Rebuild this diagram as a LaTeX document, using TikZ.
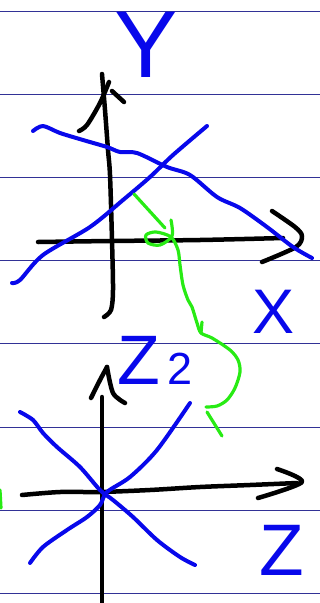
\documentclass[tikz,border=0pt]{standalone}
\usepackage{fontspec}
\setsansfont{Liberation Sans}
\usetikzlibrary{positioning}
\definecolor{penblue}{RGB}{8,8,235}
\definecolor{pengreen}{RGB}{40,235,20}
\definecolor{ruleblue}{RGB}{50,50,150}
\tikzset{
  pen/.style={line width=4.5pt, line cap=round, line join=round},
  bluepen/.style={pen, line width=4pt, color=penblue},
  greenpen/.style={pen, line width=3.2pt, color=pengreen},
  ruling/.style={line width=1pt, color=ruleblue},
  hand/.style={inner sep=0pt, text=penblue, font=\sffamily}
}
\begin{document}
\begin{tikzpicture}[x=1pt,y=-1pt]
\useasboundingbox (0,0) rectangle (320,603);

\foreach \y in {11,94,177.5,260.5,343.5,427,510,593.5}
  \draw[ruling] (0,\y) -- (320,\y);

\draw[pen] plot[smooth] coordinates {(102,74) (105,110) (108,150) (110,175) (112,240) (113,290) (111,310) (104,317)};
\draw[pen] plot[smooth] coordinates {(109,82) (100,103) (87,125) (79,131)};
\draw[pen] (112,91) -- (124,102);
\draw[pen] plot[smooth] coordinates {(38,242) (110,241) (200,240) (283,238)};
\draw[pen] plot[smooth] coordinates {(272,211) (295,227) (302,236) (296,247) (262,262)};

\draw[bluepen] plot[smooth] coordinates {(33,131) (43,126) (60,133) (83,140) (107,147) (120,152) (137,153) (167,167) (190,175) (217,197) (240,208) (267,227) (293,247) (312,258)};
\draw[bluepen] plot[smooth] coordinates {(12,283) (20,280) (43,255) (90,227) (123,200) (150,177) (173,155) (207,126)};

\node[hand, font=\sffamily\fontsize{95}{95}\selectfont] (ylab) at (146,45) {Y};
\node[hand, font=\sffamily\fontsize{63}{63}\selectfont] (xlab) at (274,312) {X};
\node[hand, anchor=base west, font=\sffamily\fontsize{70}{70}\selectfont] (zlabtwo) at (117,384) {Z\hspace{8pt}{\fontsize{45}{45}\selectfont 2}};
\node[hand, anchor=base west, font=\sffamily\fontsize{73}{73}\selectfont] (zlabone) at (259,575) {Z};

\draw[greenpen] (134,194) -- (165,228);
\draw[greenpen] plot[smooth] coordinates {(171,220) (172,236) (160,245) (148,243) (146,235) (156,232) (171,237) (178,250) (180,265) (183,285) (188,300) (192,307) (197,323) (201,333) (212,338) (230,350) (238,360) (240,372) (235,388) (227,400) (217,406) (206,407)};
\draw[greenpen] (202,322) -- (201,333);
\draw[greenpen] (207,412) -- (222,436);
\draw[greenpen] (0,490) -- (1,508);

\draw[pen] (102,397) -- (102,603);
\draw[pen] plot[smooth] coordinates {(91,398) (100,380) (107,367)};
\draw[pen] plot[smooth] coordinates {(107,367) (113,393) (125,403)};
\draw[pen] plot[smooth] coordinates {(22,495) (60,492) (100,492) (150,490) (200,487) (250,485) (297,483)};
\draw[pen] plot[smooth] coordinates {(277,469) (302,482) (258,498)};

\draw[bluepen] plot[smooth] coordinates {(20,412) (33,420) (43,433) (57,447) (80,467) (100,490) (113,500) (133,517) (157,540) (180,557) (195,565)};
\draw[bluepen] plot[smooth] coordinates {(30,563) (43,547) (67,530) (87,517) (100,505) (107,492) (130,477) (157,450) (190,403)};

\end{tikzpicture}
\end{document}
